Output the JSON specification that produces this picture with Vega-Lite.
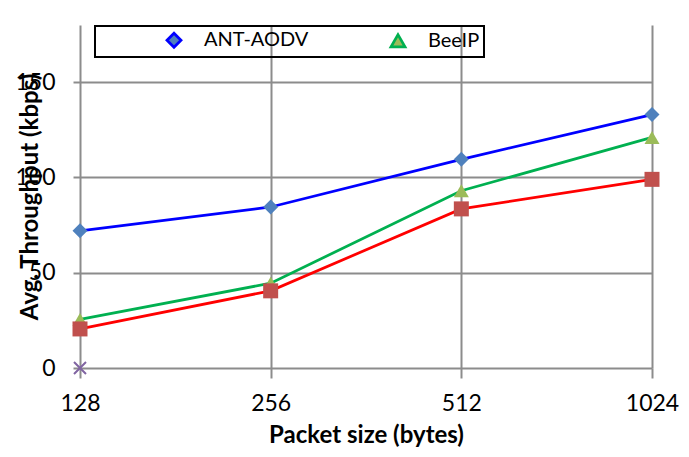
{
  "$schema": "https://vega.github.io/schema/vega-lite/v6.json",
  "width": 572,
  "height": 343,
  "autosize": "none",
  "padding": {"left": 80, "top": 25, "right": 37, "bottom": 89},
  "background": "white",
  "data": {
    "values": [
      {"size": "128", "series": "ANT-AODV", "value": 72},
      {"size": "256", "series": "ANT-AODV", "value": 84.5},
      {"size": "512", "series": "ANT-AODV", "value": 109.5},
      {"size": "1024", "series": "ANT-AODV", "value": 133},
      {"size": "128", "series": "BeeIP", "value": 25.5},
      {"size": "256", "series": "BeeIP", "value": 44.5},
      {"size": "512", "series": "BeeIP", "value": 93},
      {"size": "1024", "series": "BeeIP", "value": 121},
      {"size": "128", "series": "Series3", "value": 20.5},
      {"size": "256", "series": "Series3", "value": 40.5},
      {"size": "512", "series": "Series3", "value": 83.5},
      {"size": "1024", "series": "Series3", "value": 99},
      {"size": "128", "series": "Series4", "value": 0}
    ]
  },
  "encoding": {
    "x": {
      "field": "size", "type": "ordinal", "sort": ["128", "256", "512", "1024"],
      "scale": {"type": "point", "padding": 0},
      "axis": {
        "title": "Packet size (bytes)", "labelAngle": 0, "grid": true,
        "tickSize": 10, "labelPadding": 14, "titlePadding": 8,
        "domain": false
      }
    },
    "y": {
      "field": "value", "type": "quantitative",
      "scale": {"domain": [0, 180], "nice": false},
      "axis": {
        "title": "Avg. Throughput (kbps)", "values": [0, 50, 100, 150],
        "tickSize": 7, "labelPadding": 18, "titleX": -50, "titleBaseline": "middle",
        "domain": false
      }
    }
  },
  "layer": [
    {
      "transform": [{"filter": "datum.series != 'Series4'"}],
      "mark": {"type": "line", "strokeWidth": 2.75},
      "encoding": {
        "color": {
          "field": "series", "type": "nominal",
          "scale": {"domain": ["ANT-AODV", "BeeIP", "Series3", "Series4"], "range": ["#0000FF", "#00B050", "#FF0000", "#8064A2"]},
          "legend": {
            "values": ["ANT-AODV", "BeeIP"], "orient": "none", "legendX": 15, "legendY": 1,
            "direction": "horizontal", "title": " ", "titleOrient": "left", "titlePadding": 65,
            "symbolSize": 196, "symbolStrokeWidth": 2.75,
            "labelOffset": 20, "columnPadding": 76,
            "strokeColor": "#000000",
            "encode": {
              "legend": {"update": {"strokeWidth": {"value": 2}}},
              "symbols": {"update": {
                "shape": {"signal": "datum.value == 'ANT-AODV' ? 'M-3.7,0H-0.85M0.85,0H3.7M0,-0.85L0.85,0L0,0.85L-0.85,0Z' : 'M-3.7,0H-0.45M0.45,0H3.7M0,-0.8L0.85,0.65L-0.85,0.65ZM18.9,0'"},
                "fill": {"scale": "fill", "field": "value"},
                "stroke": {"scale": "color", "field": "value"},
                "strokeWidth": {"value": 2.75},
                "opacity": {"value": 1}
              }}
            }
          }
        }
      }
    },
    {
      "transform": [{"filter": "datum.series != 'Series4'"}],
      "mark": {"type": "point", "filled": true, "opacity": 1, "strokeWidth": 0, "size": 225},
      "encoding": {
        "fill": {
          "field": "series", "type": "nominal", "legend": null,
          "scale": {"domain": ["ANT-AODV", "BeeIP", "Series3", "Series4"], "range": ["#4F81BD", "#9BBB59", "#C0504D", "#8064A2"]}
        },
        "shape": {
          "field": "series", "type": "nominal",
          "scale": {"domain": ["ANT-AODV", "BeeIP", "Series3", "Series4"], "range": ["diamond", "triangle-up", "square", "cross"]},
          "legend": null
        }
      }
    },
    {
      "transform": [{"filter": "datum.series == 'Series4'"}],
      "mark": {"type": "point", "shape": "M-1,-1L1,1M-1,1L1,-1", "filled": false, "color": "#8064A2", "strokeWidth": 2, "size": 144, "opacity": 1}
    }
  ],
  "config": {
    "view": {"stroke": null},
    "font": "Lato",
    "axis": {
      "gridColor": "#8c8c8c", "gridWidth": 2, "gridOpacity": 1,
      "tickColor": "#8c8c8c", "tickWidth": 2,
      "labelFont": "Lato", "labelFontSize": 23, "labelColor": "#000000",
      "titleFont": "Lato", "titleFontSize": 24, "titleFontWeight": "bold", "titleColor": "#000000"
    },
    "legend": {
      "padding": 4,
      "labelFont": "Lato", "labelFontSize": 20, "labelColor": "#000000",
      "titleFont": "Lato", "titleFontSize": 20, "symbolOpacity": 1
    }
  }
}
